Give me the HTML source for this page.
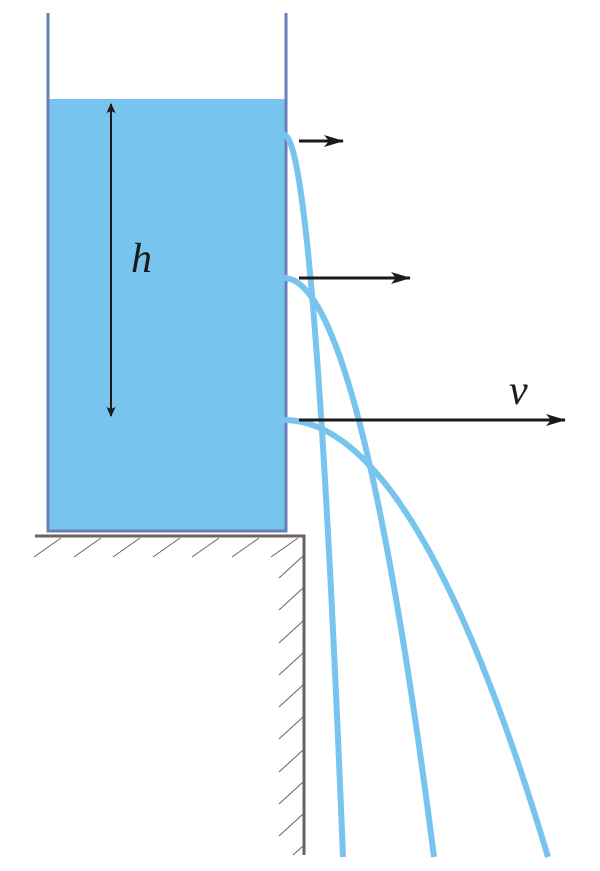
<!DOCTYPE html>
<html><head><style>html,body{margin:0;padding:0;background:#fff}svg{display:block}</style></head>
<body>
<svg width="600" height="871" viewBox="0 0 600 871" xmlns="http://www.w3.org/2000/svg">
<defs>
<marker id="a" markerWidth="10" markerHeight="10" refX="9" refY="5" orient="auto-start-reverse" markerUnits="userSpaceOnUse"><path d="M0,0.5 L10,5 L0,9.5 L2,5z" fill="#1a1a1a"/></marker>
<marker id="b" markerWidth="20" markerHeight="12" refX="19" refY="6" orient="auto" markerUnits="userSpaceOnUse"><path d="M0,0 L20,6 L0,12 L5,6z" fill="#1a1a1a"/></marker>
</defs>
<rect x="49" y="99" width="236" height="431" fill="#77c4ee"/>
<path d="M48,13 V531 H286 V13" fill="none" stroke="#6a7fba" stroke-width="3"/>
<g fill="none" stroke="#77c4ee" stroke-width="6">
<path d="M284,135 Q314,135 343,857"/>
<path d="M284,278 Q360,278 434,857"/>
<path d="M284,420 Q417,420 548,857"/>
</g>
<g stroke="#1a1a1a" stroke-width="2" fill="none">
<line x1="111" y1="104" x2="111" y2="416" marker-start="url(#a)" marker-end="url(#a)"/>
</g>
<g stroke="#1a1a1a" stroke-width="3" fill="none">
<line x1="299" y1="141" x2="343" y2="141" marker-end="url(#b)"/>
<line x1="299" y1="278" x2="410" y2="278" marker-end="url(#b)"/>
<line x1="299" y1="420" x2="565" y2="420" marker-end="url(#b)"/>
</g>
<path d="M35,536 H304 V855" fill="none" stroke="#6e625e" stroke-width="3"/>
<g stroke="#6e625e" stroke-width="1">
<line x1="34" y1="557" x2="61" y2="538"/><line x1="74" y1="557" x2="101" y2="538"/>
<line x1="113" y1="557" x2="140" y2="538"/><line x1="153" y1="557" x2="180" y2="538"/>
<line x1="192" y1="557" x2="219" y2="538"/><line x1="232" y1="557" x2="259" y2="538"/>
<line x1="271" y1="557" x2="298" y2="538"/>
<line x1="279" y1="578" x2="303" y2="556"/><line x1="279" y1="610" x2="303" y2="588"/>
<line x1="279" y1="643" x2="303" y2="621"/><line x1="279" y1="675" x2="303" y2="653"/>
<line x1="279" y1="707" x2="303" y2="685"/><line x1="279" y1="739" x2="303" y2="717"/>
<line x1="279" y1="772" x2="303" y2="750"/><line x1="279" y1="804" x2="303" y2="782"/>
<line x1="279" y1="836" x2="303" y2="814"/><line x1="293" y1="855" x2="303" y2="846"/>
</g>
<text x="131" y="272" font-family="Liberation Serif, serif" font-style="italic" font-size="42" fill="#1a1a1a">h</text>
<text x="509" y="404" font-family="Liberation Serif, serif" font-style="italic" font-size="42" fill="#1a1a1a">v</text>
</svg>
</body></html>
